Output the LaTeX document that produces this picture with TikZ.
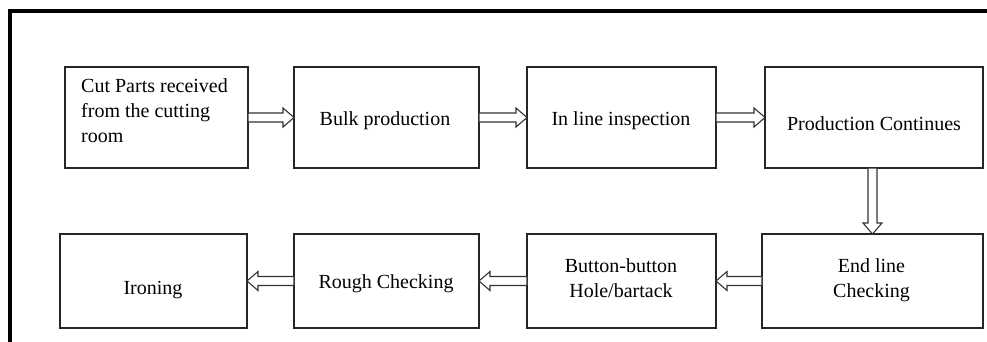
\documentclass[tikz,border=0pt]{standalone}
\usepackage{fontspec}
\setmainfont{Liberation Serif}
\usetikzlibrary{calc}
\begin{document}
\begin{tikzpicture}[x=1pt,y=-1pt,
  box/.style={draw=black!85, line width=1.3pt, rectangle, inner sep=0pt, outer sep=0pt},
  lbl/.style={font=\fontsize{20}{25}\selectfont, inner sep=0pt, align=center},
  % hollow block arrow drawn as a closed outline from start to target
  hol/.style={draw=black!80, line width=1.1pt, fill=white, line join=miter,
    to path={let \p1=(\tikztostart), \p2=(\tikztotarget), \p3=($(\p2)!11pt!(\p1)$) in
      ($(\p1)!4.5pt!90:(\p2)$) -- ($(\p3)!4.5pt!90:(\p2)$) -- ($(\p3)!9.5pt!90:(\p2)$) -- (\p2)
      -- ($(\p3)!9.5pt!-90:(\p2)$) -- ($(\p3)!4.5pt!-90:(\p2)$) -- ($(\p1)!4.5pt!-90:(\p2)$) -- cycle}},
]
\clip (0,0) rectangle (987,341);

% heading fragment and open frame
\node[font=\bfseries\fontsize{22}{26}\selectfont, anchor=base, inner sep=0pt, text=black!60] (hd) at (670,-6) {g};
\draw[line width=4pt] (9.5,350) -- (9.5,11.3) -- (995,11.3);

% first row
\node[box, minimum width=183pt, minimum height=101pt] (b1) at (156.5,117.5) {};
\node[box, minimum width=185pt, minimum height=101pt] (b2) at (386.5,117.5) {};
\node[box, minimum width=189pt, minimum height=101pt] (b3) at (621.5,117.5) {};
\node[box, minimum width=218pt, minimum height=101pt] (b4) at (874,117.5) {};

% second row
\node[box, minimum width=221pt, minimum height=94pt] (b5) at (872.5,281) {};
\node[box, minimum width=189pt, minimum height=94pt] (b6) at (621.5,281) {};
\node[box, minimum width=185pt, minimum height=94pt] (b7) at (386.5,281) {};
\node[box, minimum width=187pt, minimum height=94pt] (b8) at (153.5,281) {};

% labels (base anchor of a multi-line label is its last baseline)
\node[lbl, align=left, anchor=base west] (t1) at (81,142) {Cut Parts received\\from the cutting\\room};
\node[lbl, anchor=base] (t2) at (385,125) {Bulk production};
\node[lbl, anchor=base] (t3) at (621,125) {In line inspection};
\node[lbl, anchor=base] (t4) at (874,130) {Production Continues};
\node[lbl, anchor=base] (t5) at (871.5,297) {End line\\Checking};
\node[lbl, anchor=base] (t6) at (621,297) {Button-button\\Hole/bartack};
\node[lbl, anchor=base] (t7) at (386,288) {Rough Checking};
\node[lbl, anchor=base] (t8) at (153,294) {Ironing};

% connectors
\draw[hol] (b1.east) to (b2.west);
\draw[hol] (b2.east) to (b3.west);
\draw[hol] (b3.east) to (b4.west);
\draw[hol] (b5.north |- b4.south) to (b5.north);
\draw[hol] (b5.west) to (b6.east);
\draw[hol] (b6.west) to (b7.east);
\draw[hol] (b7.west) to (b8.east);
\end{tikzpicture}
\end{document}
